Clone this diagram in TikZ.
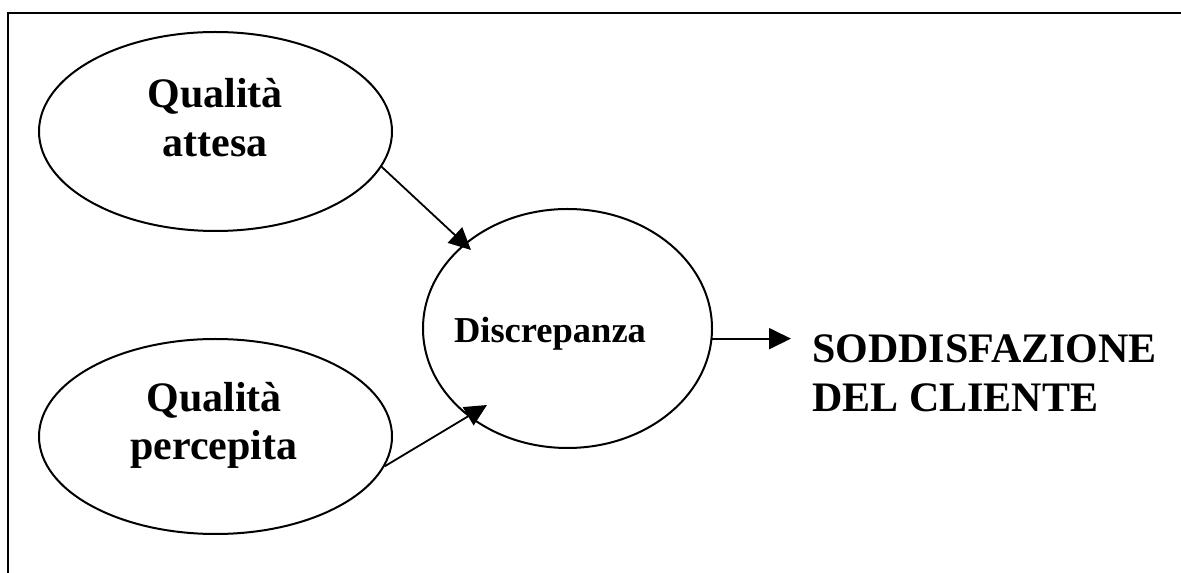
\documentclass[tikz,border=0pt]{standalone}
\usepackage{fontspec}
\setmainfont{Liberation Serif}
\usetikzlibrary{arrows.meta,shapes.geometric}
\begin{document}
\begin{tikzpicture}[x=1pt,y=1pt,
  oval/.style={draw, ellipse, line width=2pt, inner sep=0pt},
  bigtxt/.style={font=\fontsize{42}{49}\selectfont\bfseries, inner sep=0pt},
  midtxt/.style={font=\fontsize{36.5}{44}\selectfont\bfseries, inner sep=0pt},
  conn/.style={line width=1.8pt, -{Triangle[length=22pt,width=21pt]}}]
\useasboundingbox (0,0) rectangle (1181,573);
% frame (only left and top edges are visible)
\draw[line width=2.4pt] (8,0) -- (8,560) -- (1181,560);
% ellipses
\node[oval, minimum width=353pt, minimum height=199pt] (qa) at (215.5,441.5) {};
\node[oval, minimum width=353pt, minimum height=195pt] (qp) at (215.5,136.5) {};
\node[oval, minimum width=289pt, minimum height=239pt] (d) at (567.5,244.5) {};
% texts
\node[bigtxt, anchor=base] (qa1) at (215,465) {Qualità};
\node[bigtxt, anchor=base] (qa2) at (215,416) {attesa};
\node[bigtxt, anchor=base] (qp1) at (214,161) {Qualità};
\node[bigtxt, anchor=base] (qp2) at (214,113) {percepita};
\node[midtxt, anchor=base] (dt) at (550,230) {Discrepanza};
\node[bigtxt, anchor=base west] (s1) at (812,210) {SODDISFAZIONE};
\node[bigtxt, anchor=base west] (s2) at (812,161) {DEL CLIENTE};
% connectors
\coordinate (tip) at ([xshift=-21pt]s1.base west);
\coordinate (ta) at ([shift={(-96.5,78.5)}]d.center);
\coordinate (tb) at ([shift={(-80.5,-76.5)}]d.center);
\draw[conn] (qa.-12.3) -- (ta);
\draw[conn] (qp.-10.7) -- (tb);
\draw[conn] (d.-4.5) -- (d.-4.5 -| tip);
\end{tikzpicture}
\end{document}
